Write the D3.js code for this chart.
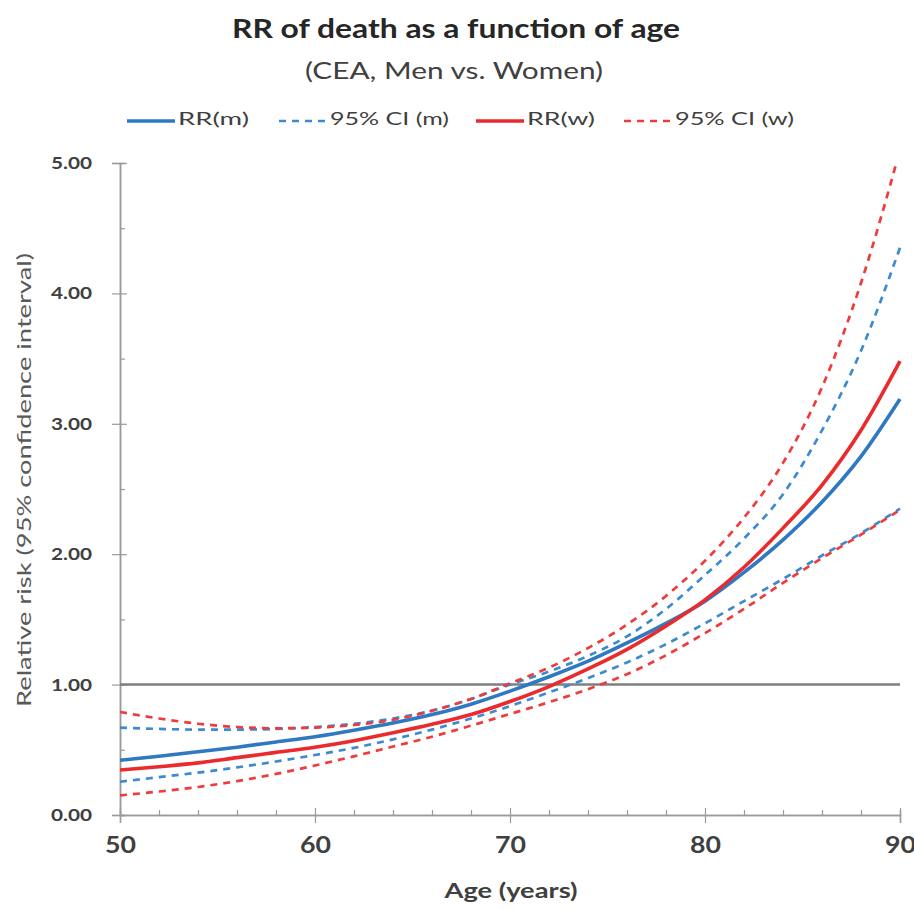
<!DOCTYPE html>
<html lang="en">
<head>
<meta charset="utf-8">
<script src="https://cdn.jsdelivr.net/npm/d3@7"></script>
<style>
body{margin:0;padding:0;background:#fff;}
svg{display:block;font-family:Lato,"Open Sans",sans-serif;}
</style>
</head>
<body>
<svg id="chart"></svg>
<script>
// data (every 2 years)
var ages = [50,52,54,56,58,60,62,64,66,68,70,72,74,76,78,80,82,84,86,88,90];
var rrMen =        [0.42,0.45,0.485,0.52,0.56,0.60,0.65,0.705,0.77,0.85,0.95,1.06,1.18,1.32,1.47,1.64,1.86,2.11,2.40,2.75,3.19];
var ciMenUpper =   [0.67,0.66,0.655,0.655,0.66,0.675,0.70,0.74,0.80,0.89,1.00,1.10,1.22,1.37,1.58,1.84,2.12,2.46,2.95,3.56,4.35];
var ciMenLower =   [0.255,0.29,0.325,0.365,0.41,0.46,0.515,0.58,0.655,0.74,0.835,0.94,1.05,1.17,1.31,1.47,1.64,1.81,1.99,2.16,2.35];
var rrWomen =      [0.345,0.37,0.40,0.44,0.48,0.52,0.57,0.63,0.695,0.77,0.87,0.985,1.12,1.27,1.45,1.65,1.90,2.20,2.53,2.95,3.48];
var ciWomenUpper = [0.79,0.74,0.70,0.675,0.665,0.67,0.69,0.73,0.80,0.89,1.01,1.13,1.28,1.46,1.68,1.95,2.28,2.70,3.28,4.08,5.10];
var ciWomenLower = [0.15,0.18,0.215,0.26,0.315,0.38,0.45,0.525,0.60,0.685,0.775,0.865,0.965,1.08,1.225,1.395,1.58,1.78,1.97,2.15,2.34];
var yTicks = [0,1,2,3,4,5];
var yMinorTicks = [0.5,1.5,2.5,3.5,4.5];
var xTicks = [50,60,70,80,90];
var xMinorTicks = [52,54,56,58,62,64,66,68,72,74,76,78,82,84,86,88];
var refValue = 1;
var legendNames = ["RR(m)","95% CI (m)","RR(w)","95% CI (w)"];

var W = 914, H = 910;
var mLeft = 120, mRight = 900, mTop = 163, mBottom = 815;
var blue = "#2f78c2", blueDash = "#3d8ad0", red = "#ea2a2c", redDash = "#ef3b3b";

var svg = d3.select("#chart").attr("width", W).attr("height", H);

// the picture's text is a little wide, so stretch to the measured length
function fit(sel, len){
	sel.attr("textLength", len).attr("lengthAdjust", "spacingAndGlyphs");
}

var x = d3.scaleLinear().domain([50,90]).range([mLeft,mRight]);
var y = d3.scaleLinear().domain([0,5]).range([mBottom,mTop]);

svg.append("defs").append("clipPath").attr("id","plot")
	.append("rect").attr("x",mLeft).attr("y",mTop-1).attr("width",mRight-mLeft+3).attr("height",mBottom-mTop+2);

//titles
svg.append("text").attr("x",456).attr("y",38).attr("text-anchor","middle")
	.attr("font-size",27).attr("font-weight","bold").attr("fill","#262626")
	.text("RR of death as a function of age").call(fit,448);
svg.append("text").attr("x",454).attr("y",79).attr("text-anchor","middle")
	.attr("font-size",23).attr("fill","#404040")
	.text("(CEA, Men vs. Women)").call(fit,298);

//y axis
var yAxis = svg.append("g").attr("transform","translate("+mLeft+",0)")
	.call(d3.axisLeft(y).tickValues(yTicks).tickFormat(d3.format(".2f")).tickSize(8).tickPadding(20));
var yMinor = svg.append("g").attr("transform","translate("+mLeft+",0)")
	.call(d3.axisLeft(y).tickValues(yMinorTicks).tickFormat("").tickSize(-5));
//x axis
var xAxis = svg.append("g").attr("transform","translate(0,"+mBottom+")")
	.call(d3.axisBottom(x).tickValues(xTicks).tickFormat(d3.format("d")).tickSize(8).tickPadding(14));
var xMinor = svg.append("g").attr("transform","translate(0,"+mBottom+")")
	.call(d3.axisBottom(x).tickValues(xMinorTicks).tickFormat("").tickSize(-5));

[yAxis,yMinor,xAxis,xMinor].forEach(function(g){
	g.select(".domain").attr("stroke","#9a9a9a").attr("stroke-width",1.5);
	g.selectAll(".tick line").attr("stroke","#9a9a9a").attr("stroke-width",1.2);
});
yAxis.selectAll(".tick line").attr("x1",7);
xAxis.selectAll(".tick line").attr("y1",-7);
yAxis.selectAll(".tick text").attr("font-size",17).attr("font-weight","bold").attr("fill","#404040")
	.attr("font-family","Lato,sans-serif").call(fit,41);
xAxis.selectAll(".tick text").attr("font-size",23).attr("font-weight","bold").attr("fill","#404040")
	.attr("font-family","Lato,sans-serif").call(fit,31);

svg.append("text").attr("x",511).attr("y",898).attr("text-anchor","middle")
	.attr("font-size",21).attr("font-weight","bold").attr("fill","#404040")
	.text("Age (years)").call(fit,133);
svg.append("text").attr("transform","translate(31,480) rotate(-90)").attr("text-anchor","middle")
	.attr("font-size",19).attr("fill","#595959")
	.text("Relative risk (95% confidence interval)").call(fit,454);

//reference line at 1.00
svg.append("line")
	.attr("x1",x(50)).attr("x2",x(90)).attr("y1",y(refValue)).attr("y2",y(refValue))
	.attr("stroke","#7f7f7f").attr("stroke-width",2.5);

//curves
var series = [
	{v:ciMenUpper, c:blueDash, dash:true},
	{v:ciMenLower, c:blueDash, dash:true},
	{v:ciWomenUpper, c:redDash, dash:true},
	{v:ciWomenLower, c:redDash, dash:true},
	{v:rrMen, c:blue, dash:false},
	{v:rrWomen, c:red, dash:false}
];
var line = d3.line()
	.x(function(d,i){return x(ages[i]);})
	.y(function(d){return y(d);})
	.curve(d3.curveMonotoneX);
var plot = svg.append("g").attr("clip-path","url(#plot)");
series.forEach(function(s){
	plot.append("path").datum(s.v)
		.attr("d",line)
		.attr("fill","none")
		.attr("stroke",s.c)
		.attr("stroke-width",s.dash ? 2.7 : 3.6)
		.attr("stroke-dasharray",s.dash ? "7,6" : null);
});

//legend
var legX = [127,279,476,624];
var legW = [71,119,68,119];
var legColors = [blue,blueDash,red,redDash];
for(var i=0;i<legendNames.length;i++){
	var g = svg.append("g").attr("transform","translate("+legX[i]+",121)");
	g.append("line").attr("x1",0).attr("x2",48).attr("y1",0).attr("y2",0)
		.attr("stroke",legColors[i]).attr("stroke-width",i%2 ? 2.7 : 3.6)
		.attr("stroke-dasharray",i%2 ? "7,6" : null);
	g.append("text").attr("x",51).attr("y",0).attr("dominant-baseline","middle")
		.attr("font-size",17).attr("fill","#404040")
		.text(legendNames[i]).call(fit,legW[i]);
}
</script>
</body>
</html>
